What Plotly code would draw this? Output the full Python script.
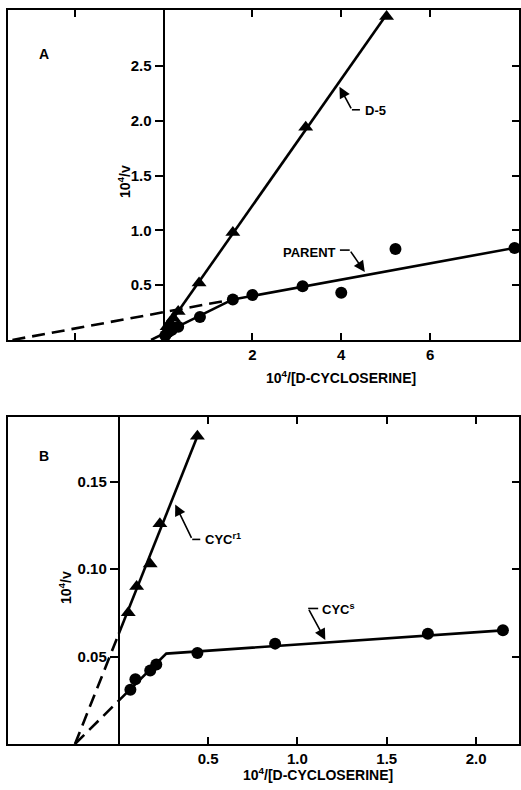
import plotly.graph_objects as go

# ---------------- Panel A: D-5 and parent strains ----------------
d5_x = [0.08, 0.15, 0.22, 0.33, 0.80, 1.56, 3.20, 5.02]
d5_y = [0.12, 0.16, 0.20, 0.26, 0.52, 0.98, 1.94, 2.95]

parent_x = [0.04, 0.10, 0.18, 0.33, 0.82, 1.56, 2.00, 3.13, 4.00, 5.22, 7.90]
parent_y = [0.04, 0.07, 0.09, 0.12, 0.21, 0.37, 0.41, 0.49, 0.43, 0.83, 0.84]

# fitted lines (solid) and their extrapolations (dashed)
d5_fit_x = [0.0, 5.02]
d5_fit_y = [0.07, 2.97]
parent_fit_x = [1.56, 7.90]
parent_fit_y = [0.37, 0.84]
parent_ext_x = [-3.4, 1.56]
parent_ext_y = [0.0, 0.37]
parent_low_x = [0.0, 1.56]
parent_low_y = [0.058, 0.37]
parent_low_ext_x = [-0.28, 0.0]
parent_low_ext_y = [0.0, 0.058]

a_ticks_x = [-2, 2, 4, 6]
a_ticktext_x = ["", "2", "4", "6"]
a_ticks_y = [0.5, 1.0, 1.5, 2.0, 2.5]
a_ticktext_y = ["0.5", "1.0", "1.5", "2.0", "2.5"]

# ---------------- Panel B: CYC^r1 and CYC^s ----------------
r1_x = [0.053, 0.10, 0.176, 0.23, 0.44]
r1_y = [0.075, 0.090, 0.103, 0.126, 0.176]
r1_fit_x = [0.0, 0.44]
r1_fit_y = [0.063, 0.176]
r1_ext_x = [-0.245, 0.0]
r1_ext_y = [0.0, 0.063]

s_x = [0.065, 0.093, 0.176, 0.21, 0.44, 0.875, 1.73, 2.15]
s_y = [0.031, 0.037, 0.042, 0.0455, 0.052, 0.0574, 0.063, 0.065]
s_fit_x = [0.0, 0.266, 2.15]
s_fit_y = [0.0248, 0.0517, 0.065]
s_ext_x = [-0.245, 0.0]
s_ext_y = [0.0, 0.0248]

b_ticks_x = [0.5, 1.0, 1.5, 2.0]
b_ticktext_x = ["0.5", "1.0", "1.5", "2.0"]
b_ticks_y = [0.05, 0.10, 0.15]
b_ticktext_y = ["0.05", "0.10", "0.15"]

# ---------------- geometry ----------------
W, H = 521, 790
X_DOM = [8 / W, 519 / W]
A_YDOM = [1 - 340 / H, 1 - 10 / H]
B_YDOM = [1 - 744 / H, 1 - 417 / H]
A_XRANGE = [-3.5, 8.0]
A_YRANGE = [0, 3.01]
B_XRANGE = [-0.62, 2.24]
B_YRANGE = [0, 0.187]

FONT = "Liberation Sans, Arial, sans-serif"


def bold(size):
    return dict(family=FONT, size=size, color="black", weight="bold")


def zero_pos(rng, dom):
    return dom[0] + (0 - rng[0]) / (rng[1] - rng[0]) * (dom[1] - dom[0])


LW = 2.6
DASH = "13px,7px"

fig = go.Figure()


def line(x, y, xa, ya, dash="solid"):
    fig.add_trace(go.Scatter(x=x, y=y, mode="lines", xaxis=xa, yaxis=ya,
                             line=dict(color="black", width=LW, dash=dash),
                             hoverinfo="skip", showlegend=False))


def pts(x, y, xa, ya, symbol, size):
    fig.add_trace(go.Scatter(x=x, y=y, mode="markers", xaxis=xa, yaxis=ya,
                             marker=dict(symbol=symbol, size=size, color="black",
                                         line=dict(width=0)),
                             showlegend=False))


# Panel A
line(parent_ext_x, parent_ext_y, "x", "y3", DASH)
line(parent_low_ext_x, parent_low_ext_y, "x", "y", DASH)
line(parent_fit_x, parent_fit_y, "x", "y")
line(parent_low_x, parent_low_y, "x", "y")
line(d5_fit_x, d5_fit_y, "x", "y")
pts(parent_x, parent_y, "x", "y", "circle", 12)
pts(d5_x, d5_y, "x", "y", "triangle-up", 13)

# Panel B
line(r1_ext_x, r1_ext_y, "x2", "y4", DASH)
line(s_ext_x, s_ext_y, "x2", "y2", DASH)
line(r1_fit_x, r1_fit_y, "x2", "y2")
line(s_fit_x, s_fit_y, "x2", "y2")
pts(s_x, s_y, "x2", "y2", "circle", 12)
pts(r1_x, r1_y, "x2", "y2", "triangle-up", 13)

common_x = dict(showline=True, linecolor="black", linewidth=2, mirror="ticks",
                ticks="inside", ticklen=7, tickwidth=2, tickcolor="black",
                tickfont=bold(15), showgrid=False, zeroline=False)
frame_y = dict(side="right", showline=True, linecolor="black", linewidth=2,
               mirror=True, ticks="inside", ticklen=7, tickwidth=2,
               tickcolor="black", showticklabels=False, showgrid=False,
               zeroline=False)
inner_y = dict(anchor="free", side="left", showline=True, linecolor="black",
               linewidth=2, ticks="outside", ticklen=8, tickwidth=2,
               tickcolor="black", tickfont=bold(15), showgrid=False,
               zeroline=False)

fig.update_layout(
    width=W, height=H,
    margin=dict(l=0, r=0, t=0, b=0),
    paper_bgcolor="white", plot_bgcolor="white",
    showlegend=False,
    xaxis=dict(domain=X_DOM, range=A_XRANGE, anchor="y",
               tickvals=a_ticks_x, ticktext=a_ticktext_x, **common_x),
    yaxis=dict(domain=A_YDOM, range=A_YRANGE, anchor="x",
               tickvals=a_ticks_y, **frame_y),
    yaxis3=dict(overlaying="y", range=A_YRANGE,
                position=zero_pos(A_XRANGE, X_DOM),
                tickvals=a_ticks_y, ticktext=a_ticktext_y, **inner_y),
    xaxis2=dict(domain=X_DOM, range=B_XRANGE, anchor="y2",
                tickvals=b_ticks_x, ticktext=b_ticktext_x, **common_x),
    yaxis2=dict(domain=B_YDOM, range=B_YRANGE, anchor="x2",
                tickvals=b_ticks_y, **frame_y),
    yaxis4=dict(overlaying="y2", range=B_YRANGE,
                position=zero_pos(B_XRANGE, X_DOM),
                tickvals=b_ticks_y, ticktext=b_ticktext_y, **inner_y),
)

annotations = []
shapes = []


def paper_text(px, py, text, size, angle=0):
    annotations.append(dict(x=px / W, y=1 - py / H, xref="paper", yref="paper",
                            xanchor="center", yanchor="middle", text=text,
                            textangle=angle, showarrow=False, font=bold(size)))


# panel letters and axis titles
paper_text(44, 54, "A", 14)
paper_text(44, 456, "B", 14)
paper_text(341, 377, "10<sup>4</sup>/[D-CYCLOSERINE]", 14)
paper_text(318, 774, "10<sup>4</sup>/[D-CYCLOSERINE]", 14)
paper_text(124, 182, "10<sup>4</sup>/v", 14, -90)
paper_text(65, 588, "10<sup>4</sup>/v", 14, -90)

# callouts: (label, text anchor, text xy, horizontal leader, arrow tail, arrow tip)
callouts = [
    ("D-5", "left", (4.50, 2.09), ((4.42, 2.10), (4.24, 2.10)), (4.24, 2.10), (3.96, 2.31), "x", "y"),
    ("PARENT", "right", (3.92, 0.80), ((3.97, 0.82), (4.19, 0.82)), (4.19, 0.82), (4.53, 0.62), "x", "y"),
    ("CYC<sup>r1</sup>", "left", (0.47, 0.117), ((0.456, 0.117), (0.411, 0.117)), (0.411, 0.117), (0.316, 0.137), "x2", "y2"),
    ("CYC<sup>s</sup>", "left", (1.128, 0.077), ((1.116, 0.0775), (1.06, 0.0775)), (1.06, 0.0775), (1.156, 0.0595), "x2", "y2"),
]
for label, anchor, txy, hseg, tail, tip, xr, yr in callouts:
    annotations.append(dict(x=txy[0], y=txy[1], xref=xr, yref=yr, text=label,
                            xanchor=anchor, yanchor="middle", showarrow=False,
                            font=bold(13)))
    shapes.append(dict(type="line", xref=xr, yref=yr,
                       x0=hseg[0][0], y0=hseg[0][1], x1=hseg[1][0], y1=hseg[1][1],
                       line=dict(color="black", width=1.6)))
    annotations.append(dict(x=tip[0], y=tip[1], xref=xr, yref=yr,
                            ax=tail[0], ay=tail[1], axref=xr, ayref=yr,
                            text="", showarrow=True, arrowhead=2, arrowsize=1.4,
                            arrowwidth=1.6, arrowcolor="black"))

fig.update_layout(annotations=annotations, shapes=shapes)

fig.write_html("out.html")
